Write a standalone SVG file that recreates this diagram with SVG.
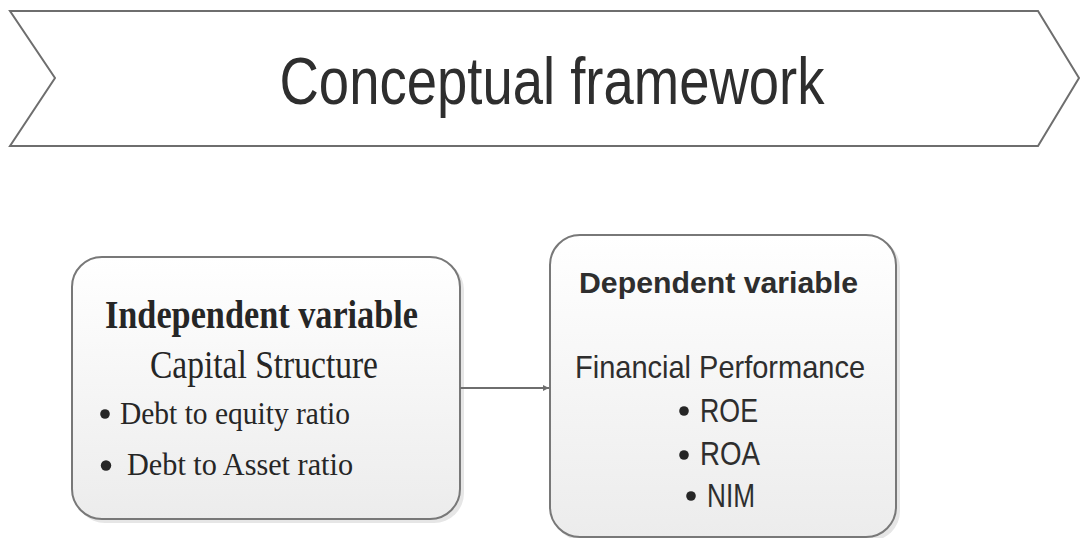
<svg xmlns="http://www.w3.org/2000/svg" width="1082" height="538" viewBox="0 0 1082 538">
<style>
.box{stroke:#787878;stroke-width:2;fill:url(#g)}
.shadow{fill:#e6e6e6}
.serif{font-family:"Liberation Serif","Times New Roman",serif;fill:#262626}
.sans{font-family:"Liberation Sans",Arial,sans-serif;fill:#2e2e2e}
.conn{stroke:#6e6e6e;stroke-width:2;fill:none}
.dot{fill:#262626}
</style>
<defs>
<linearGradient id="g" x1="0" y1="0" x2="0" y2="1">
<stop offset="0" stop-color="#ffffff"/>
<stop offset="1" stop-color="#ececec"/>
</linearGradient>
<marker id="arr" markerWidth="6" markerHeight="6" refX="6" refY="3" orient="auto" markerUnits="userSpaceOnUse">
<path d="M0,0 L6,3 L0,6 Z" fill="#6e6e6e"/>
</marker>
</defs>
<g id="title">
<path d="M10,11 L1038,11 L1079,78 L1038,146 L10,146 L55,78 Z" fill="#ffffff" stroke="#6e6e6e" stroke-width="2"/>
<text class="sans" x="552" y="104" font-size="66" text-anchor="middle" textLength="545" lengthAdjust="spacingAndGlyphs" fill="#333333">Conceptual framework</text>
</g>
<g id="independent">
<rect class="shadow" x="75" y="260" width="389" height="263" rx="30"/>
<rect class="box" x="72" y="257" width="388" height="262" rx="30"/>
<text class="serif" x="261.5" y="328" font-size="40" font-weight="bold" text-anchor="middle" textLength="313" lengthAdjust="spacingAndGlyphs">Independent variable</text>
<text class="serif" x="264" y="378" font-size="40" text-anchor="middle" textLength="228" lengthAdjust="spacingAndGlyphs">Capital Structure</text>
<circle class="dot" cx="105" cy="414" r="4.8"/>
<text class="serif" x="120" y="424" font-size="32" textLength="230" lengthAdjust="spacingAndGlyphs">Debt to equity ratio</text>
<circle class="dot" cx="106" cy="465.5" r="5.2"/>
<text class="serif" x="127" y="475" font-size="32" textLength="226" lengthAdjust="spacingAndGlyphs">Debt to Asset ratio</text>
</g>
<g id="connectors">
<line class="conn" x1="460" y1="388" x2="549" y2="388" marker-end="url(#arr)"/>
</g>
<g id="dependent">
<rect class="shadow" x="553" y="238" width="347" height="303" rx="30"/>
<rect class="box" x="550" y="235" width="346" height="302" rx="30"/>
<text class="sans" x="718.5" y="293" font-size="30" font-weight="bold" text-anchor="middle" textLength="279" lengthAdjust="spacingAndGlyphs">Dependent variable</text>
<text class="sans" x="720" y="378" font-size="32" text-anchor="middle" textLength="290" lengthAdjust="spacingAndGlyphs">Financial Performance</text>
<circle class="dot" cx="684" cy="411" r="4.8"/>
<text class="sans" x="700" y="422" font-size="33" textLength="58" lengthAdjust="spacingAndGlyphs">ROE</text>
<circle class="dot" cx="684" cy="455" r="4.8"/>
<text class="sans" x="700" y="465" font-size="33" textLength="60" lengthAdjust="spacingAndGlyphs">ROA</text>
<circle class="dot" cx="691" cy="496" r="4.8"/>
<text class="sans" x="707" y="507" font-size="33" textLength="48" lengthAdjust="spacingAndGlyphs">NIM</text>
</g>
</svg>
